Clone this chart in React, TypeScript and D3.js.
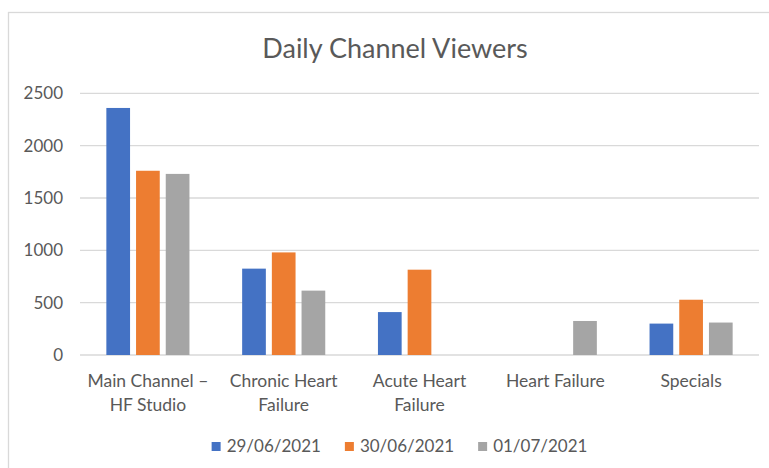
import React, { useEffect, useRef } from 'react'
import * as d3 from 'd3'

const categories = [
  'Main Channel – HF Studio',
  'Chronic Heart Failure',
  'Acute Heart Failure',
  'Heart Failure',
  'Specials',
]
const seriesNames = ['29/06/2021', '30/06/2021', '01/07/2021']
const seriesColors = ['#4472C4', '#ED7D31', '#A5A5A5']
const views2906 = [2360, 825, 410, 0, 300]
const views3006 = [1760, 980, 815, 0, 528]
const views0107 = [1730, 615, 0, 325, 310]
const yTicks = [0, 500, 1000, 1500, 2000, 2500]

const W = 769
const H = 468
const FONT = 'Lato, "Open Sans", sans-serif'
const TEXT = '#595959'

export default function App() {
  const svgRef = useRef<SVGSVGElement>(null)

  useEffect(() => {
    if (!svgRef.current) return
    document.body.style.margin = '0'
    const svg = d3.select(svgRef.current)
    svg.selectAll('*').remove()

    const values = [views2906, views3006, views0107]
    const plot = { left: 80, right: 759, top: 93.3, bottom: 355 }

    // chart border
    svg
      .append('rect')
      .attr('x', 8.5)
      .attr('y', 12.5)
      .attr('width', W + 20)
      .attr('height', H + 20)
      .attr('fill', 'white')
      .attr('stroke', '#D9D9D9')
      .attr('stroke-width', 1.3)

    svg
      .append('text')
      .attr('x', 395)
      .attr('y', 58)
      .attr('text-anchor', 'middle')
      .style('font-family', FONT)
      .style('font-size', '27px')
      .style('fill', TEXT)
      .text('Daily Channel Viewers')

    const x = d3
      .scaleBand<string>()
      .domain(categories)
      .range([plot.left, plot.right])
      .padding(0)

    const step = 29.7
    const xInner = d3
      .scaleBand<string>()
      .domain(seriesNames)
      .range([-1.5 * step, 1.5 * step])
      .paddingInner(6 / step)
      .paddingOuter(3 / step)

    const y = d3
      .scaleLinear()
      .domain([0, 2500])
      .range([plot.bottom, plot.top])

    // gridlines
    svg
      .append('g')
      .selectAll('line')
      .data(yTicks)
      .join('line')
      .attr('x1', plot.left)
      .attr('x2', plot.right)
      .attr('y1', (d) => y(d))
      .attr('y2', (d) => y(d))
      .attr('stroke', '#D9D9D9')
      .attr('stroke-width', 1.3)

    svg
      .append('g')
      .selectAll('text')
      .data(yTicks)
      .join('text')
      .attr('x', 63)
      .attr('y', (d) => y(d))
      .attr('dy', '0.36em')
      .attr('text-anchor', 'end')
      .style('font-family', FONT)
      .style('font-size', '17px')
      .style('fill', TEXT)
      .text((d) => String(d))

    // bars
    seriesNames.forEach((name, si) => {
      svg
        .append('g')
        .selectAll('rect')
        .data(categories.map((c, i) => ({ c, v: values[si][i] })).filter((d) => d.v > 0))
        .join('rect')
        .attr('x', (d) => x(d.c)! + x.bandwidth() / 2 + xInner(name)!)
        .attr('y', (d) => y(d.v))
        .attr('width', xInner.bandwidth())
        .attr('height', (d) => y(0) - y(d.v))
        .attr('fill', seriesColors[si])
    })

    // category labels, wrapped
    const labels = svg.append('g')
    categories.forEach((c) => {
      const t = labels
        .append('text')
        .attr('text-anchor', 'middle')
        .style('font-family', FONT)
        .style('font-size', '17.5px')
        .style('fill', TEXT)
      const words = c.split(' ')
      const lines: string[] = []
      let line: string[] = []
      const probe = t.append('tspan')
      words.forEach((w) => {
        const trial = [...line, w].join(' ')
        probe.text(trial)
        if ((probe.node() as SVGTextContentElement).getComputedTextLength() > 128 && line.length) {
          lines.push(line.join(' '))
          line = [w]
        } else {
          line.push(w)
        }
      })
      lines.push(line.join(' '))
      probe.remove()
      const cx = x(c)! + x.bandwidth() / 2
      lines.forEach((l, i) => {
        t.append('tspan')
          .attr('x', cx)
          .attr('y', 387 + i * 23.5)
          .text(l)
      })
    })

    // legend
    const legend = svg.append('g')
    let lx = 0
    seriesNames.forEach((name, i) => {
      const g = legend.append('g').attr('transform', `translate(${lx},0)`)
      g.append('rect')
        .attr('x', 0)
        .attr('y', 442)
        .attr('width', 9)
        .attr('height', 9)
        .attr('fill', seriesColors[i])
      const t = g
        .append('text')
        .attr('x', 15)
        .attr('y', 452)
        .style('font-family', FONT)
        .style('font-size', '17px')
        .style('fill', TEXT)
        .text(name)
      lx += 15 + (t.node() as SVGTextContentElement).getComputedTextLength() + 24
    })
    const total = lx - 24
    legend.attr('transform', `translate(${399.5 - total / 2},0)`)
  }, [])

  return (
    <svg
      ref={svgRef}
      width={W}
      height={H}
      style={{ position: 'absolute', left: 0, top: 0, display: 'block' }}
    />
  )
}
